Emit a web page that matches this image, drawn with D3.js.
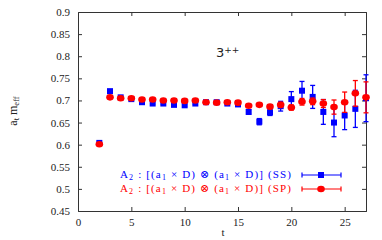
<!DOCTYPE html>
<html>
<head>
<meta charset="utf-8">
<script src="https://cdn.jsdelivr.net/npm/d3@7"></script>
<style>
  body { margin: 0; background: #fff; }
  svg text { font-family: "Liberation Serif", "DejaVu Serif", serif; }
</style>
</head>
<body>
<div id="chart"></div>
<script>
// time slices
var tVals = [2,3,4,5,6,7,8,9,10,11,12,13,14,15,16,17,18,19,20,21,22,23,24,25,26,27];
// (SS) blue squares
var ssVals = [0.604,0.721,0.707,0.703,0.696,0.693,0.693,0.690,0.689,0.693,0.696,0.696,0.693,0.691,0.674,0.652,0.673,0.687,0.703,0.722,0.708,0.674,0.650,0.666,0.681,0.705];
var ssErrs = [0.002,0.002,0.002,0.002,0.002,0.002,0.002,0.002,0.002,0.002,0.003,0.003,0.003,0.004,0.005,0.007,0.007,0.011,0.017,0.021,0.026,0.028,0.032,0.032,0.042,0.053];
// (SP) red circles
var spVals = [0.601,0.707,0.705,0.705,0.702,0.702,0.700,0.700,0.699,0.700,0.696,0.695,0.696,0.695,0.688,0.690,0.686,0.690,0.684,0.697,0.698,0.693,0.685,0.696,0.716,0.707];
var spErrs = [0.001,0.001,0.001,0.001,0.001,0.001,0.002,0.002,0.002,0.002,0.002,0.002,0.002,0.002,0.003,0.003,0.004,0.006,0.006,0.0075,0.0075,0.009,0.016,0.023,0.029,0.035];

var xTicks = [0,5,10,15,20,25];
var yTicks = [0.45,0.5,0.55,0.6,0.65,0.7,0.75,0.8,0.85,0.9];

var width = 382, height = 240;
var pLeft = 78, pRight = 366, pTop = 12, pBottom = 211;

var svg = d3.select("#chart").append("svg")
  .attr("width", width).attr("height", height);

var x = d3.scaleLinear().domain([0, 27]).range([pLeft, pRight]);
var y = d3.scaleLinear().domain([0.45, 0.9]).range([pBottom, pTop]);

var axisColor = "#333";
var fmt = function(d) { return String(+d.toFixed(2)); };

// axes (ticks pointing inward on all four sides)
var gB = svg.append("g").attr("transform", "translate(0," + pBottom + ")")
  .call(d3.axisBottom(x).tickValues(xTicks).tickSize(-4).tickPadding(7).tickFormat(fmt));
var gT = svg.append("g").attr("transform", "translate(0," + pTop + ")")
  .call(d3.axisTop(x).tickValues(xTicks).tickSize(-4).tickFormat(""));
var gL = svg.append("g").attr("transform", "translate(" + pLeft + ",0)")
  .call(d3.axisLeft(y).tickValues(yTicks).tickSize(-4).tickPadding(8).tickFormat(fmt));
var gR = svg.append("g").attr("transform", "translate(" + pRight + ",0)")
  .call(d3.axisRight(y).tickValues(yTicks).tickSize(-4).tickFormat(""));

[gB, gT, gL, gR].forEach(function(g) {
  g.select(".domain").attr("stroke", axisColor).attr("stroke-width", 1);
  g.selectAll(".tick line").attr("stroke", axisColor);
  g.selectAll(".tick text").attr("fill", "#222").style("font-size", "11px")
    .style("font-family", "'Liberation Serif', serif");
});
gB.selectAll(".tick").filter(function(d) { return d === 0; }).select("line").remove();
gT.selectAll(".tick").filter(function(d) { return d === 0; }).select("line").remove();
gL.selectAll(".tick").filter(function(d) { return d === 0.45 || d === 0.9; }).select("line").remove();
gR.selectAll(".tick").filter(function(d) { return d === 0.45 || d === 0.9; }).select("line").remove();

// axis labels
var yl = svg.append("text")
  .attr("transform", "translate(17," + 111 + ") rotate(-90)")
  .attr("text-anchor", "middle")
  .style("font-size", "12px").attr("fill", "#222");
yl.append("tspan").text("a");
yl.append("tspan").attr("baseline-shift", "-25%").style("font-size", "8.5px").text("t");
yl.append("tspan").text(" m");
yl.append("tspan").attr("baseline-shift", "-25%").style("font-size", "8.5px").text("eff");

svg.append("text").attr("x", 223).attr("y", 236)
  .attr("text-anchor", "middle").style("font-size", "11px").attr("fill", "#222").text("t");

var lab = svg.append("text").attr("x", 216).attr("y", 57)
  .style("font-size", "13px").attr("fill", "#222")
  .style("font-family", "'DejaVu Sans', sans-serif");
lab.append("tspan").text("3");
lab.append("tspan").attr("baseline-shift", "45%").style("font-size", "9px").text("++");

// data
var ss = tVals.map(function(t, i) { return { t: t, v: ssVals[i], e: ssErrs[i] }; });
var sp = tVals.map(function(t, i) { return { t: t, v: spVals[i], e: spErrs[i] }; });

function errBars(g, data, color, cap) {
  g.selectAll("line.v").data(data).enter().append("line")
    .attr("x1", function(d) { return x(d.t); }).attr("x2", function(d) { return x(d.t); })
    .attr("y1", function(d) { return y(d.v - d.e); }).attr("y2", function(d) { return y(d.v + d.e); })
    .attr("stroke", color).attr("stroke-width", 1.3);
  [-1, 1].forEach(function(s) {
    g.selectAll("line.c" + s).data(data).enter().append("line")
      .attr("x1", function(d) { return x(d.t) - cap; }).attr("x2", function(d) { return x(d.t) + cap; })
      .attr("y1", function(d) { return y(d.v + s * d.e); }).attr("y2", function(d) { return y(d.v + s * d.e); })
      .attr("stroke", color).attr("stroke-width", 1.3);
  });
}

var gSS = svg.append("g");
errBars(gSS, ss, "#0000ff", 2.5);
gSS.selectAll("rect").data(ss).enter().append("rect")
  .attr("x", function(d) { return x(d.t) - 3; }).attr("y", function(d) { return y(d.v) - 3; })
  .attr("width", 6).attr("height", 6).attr("fill", "#0000ff");

var gSP = svg.append("g");
errBars(gSP, sp, "#ff0000", 2.5);
gSP.selectAll("ellipse").data(sp).enter().append("ellipse")
  .attr("cx", function(d) { return x(d.t); }).attr("cy", function(d) { return y(d.v); })
  .attr("rx", 3.8).attr("ry", 3.3).attr("fill", "#ff0000");

// legend
function legendText(yy, color, tag) {
  var tx = svg.append("text").attr("x", 120).attr("y", yy)
    .attr("textLength", 171).attr("lengthAdjust", "spacing")
    .style("font-size", "11px").attr("fill", color);
  tx.append("tspan").text("A");
  tx.append("tspan").attr("baseline-shift", "-25%").style("font-size", "8px").text("2");
  tx.append("tspan").text(" : [(a");
  tx.append("tspan").attr("baseline-shift", "-25%").style("font-size", "8px").text("1");
  tx.append("tspan").text(" \u00d7 D) \u2297 (a");
  tx.append("tspan").attr("baseline-shift", "-25%").style("font-size", "8px").text("1");
  tx.append("tspan").text(" \u00d7 D)] (" + tag + ")");
}
legendText(178, "#0000ff", "SS");
legendText(192, "#ff0000", "SP");

var lx1 = 302, lx2 = 341, lm = 321;
[[175, "#0000ff", "sq"], [189, "#ff0000", "ci"]].forEach(function(r) {
  var ly = r[0], c = r[1];
  svg.append("line").attr("x1", lx1).attr("x2", lx2).attr("y1", ly).attr("y2", ly).attr("stroke", c).attr("stroke-width", 1.2);
  [lx1, lx2].forEach(function(cx) {
    svg.append("line").attr("x1", cx).attr("x2", cx).attr("y1", ly - 2.5).attr("y2", ly + 2.5).attr("stroke", c).attr("stroke-width", 1.2);
  });
  if (r[2] === "sq") {
    svg.append("rect").attr("x", lm - 3).attr("y", ly - 3).attr("width", 6).attr("height", 6).attr("fill", c);
  } else {
    svg.append("ellipse").attr("cx", lm).attr("cy", ly).attr("rx", 3.8).attr("ry", 3.3).attr("fill", c);
  }
});
</script>
</body>
</html>
